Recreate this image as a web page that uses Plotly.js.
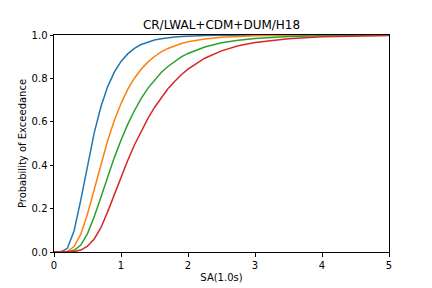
<!DOCTYPE html>
<html>
<head>
<meta charset="utf-8">
<script src="https://cdn.plot.ly/plotly-3.0.1.min.js"></script>
<style>html,body{margin:0;padding:0;background:#fff;}#chart{width:432px;height:288px;}</style>
</head>
<body>
<div id="chart"></div>
<script>
const sa = [0, 0.1, 0.2, 0.3, 0.4, 0.5, 0.6, 0.7, 0.8, 0.9, 1.0, 1.1, 1.2, 1.3, 1.4, 1.5, 1.6, 1.7, 1.8, 1.9, 2.0, 2.25, 2.5, 2.75, 3.0, 3.5, 4.0, 4.5, 5.0];
const blue   = [0, 0.0002, 0.017, 0.098, 0.240, 0.402, 0.549, 0.669, 0.761, 0.829, 0.878, 0.913, 0.938, 0.956, 0.968, 0.977, 0.983, 0.988, 0.991, 0.993, 0.995, 0.9976, 0.9988, 0.9994, 0.9997, 0.9999, 1.0, 1.0, 1.0];
const orange = [0, 0, 0.003, 0.025, 0.082, 0.175, 0.290, 0.405, 0.513, 0.606, 0.684, 0.749, 0.801, 0.842, 0.875, 0.901, 0.922, 0.938, 0.951, 0.961, 0.969, 0.982, 0.990, 0.994, 0.996, 0.9986, 0.9994, 0.9998, 0.9999];
const green  = [0, 0, 0.001, 0.008, 0.032, 0.085, 0.162, 0.252, 0.345, 0.435, 0.515, 0.588, 0.651, 0.707, 0.754, 0.793, 0.827, 0.855, 0.879, 0.899, 0.915, 0.945, 0.964, 0.976, 0.984, 0.993, 0.9966, 0.9983, 0.9991];
const red    = [0, 0, 0.0002, 0.002, 0.009, 0.027, 0.060, 0.112, 0.185, 0.265, 0.345, 0.422, 0.493, 0.557, 0.615, 0.666, 0.712, 0.752, 0.786, 0.817, 0.843, 0.893, 0.927, 0.950, 0.965, 0.983, 0.992, 0.9957, 0.9977];
const seriesNames = ["Slight", "Moderate", "Extensive", "Complete"];
const colors = ["#1f77b4", "#ff7f0e", "#2ca02c", "#d62728"];
const titleText = "CR/LWAL+CDM+DUM/H18";
const xLabel = "SA(1.0s)";
const yLabel = "Probability of Exceedance";

const allY = [blue, orange, green, red];
const traces = allY.map((ys, i) => ({
  x: sa, y: ys, type: "scatter", mode: "lines", name: seriesNames[i],
  line: {color: colors[i], width: 1.5}, hoverinfo: "skip"
}));

const font = {family: "DejaVu Sans", size: 10, color: "#000"};
const axisCommon = {
  showgrid: false, zeroline: false, showline: true, linecolor: "#000", linewidth: 1,
  mirror: true, ticks: "outside", ticklen: 3.5, tickwidth: 1, tickcolor: "#000",
  tickfont: font, automargin: false
};
const layout = {
  width: 432, height: 288,
  margin: {l: 54, r: 43, t: 35, b: 36, pad: 0},
  paper_bgcolor: "#fff", plot_bgcolor: "#fff",
  showlegend: false,
  font: font,
  title: {text: titleText, font: {family: "DejaVu Sans", size: 12, color: "#000"},
          x: 0.5, xref: "paper", y: 1 - 25/288, yref: "container", yanchor: "middle"},
  xaxis: Object.assign({}, axisCommon, {range: [0, 5], tickmode: "array", tickvals: [0,1,2,3,4,5],
          title: {text: xLabel, font: font, standoff: 4}}),
  yaxis: Object.assign({}, axisCommon, {range: [0, 1], tickmode: "array", tickvals: [0,0.2,0.4,0.6,0.8,1.0],
          ticktext: ["0.0","0.2","0.4","0.6","0.8","1.0"],
          title: {text: yLabel, font: font, standoff: 3}})
};
Plotly.newPlot("chart", traces, layout, {staticPlot: true, displayModeBar: false});
</script>
</body>
</html>
